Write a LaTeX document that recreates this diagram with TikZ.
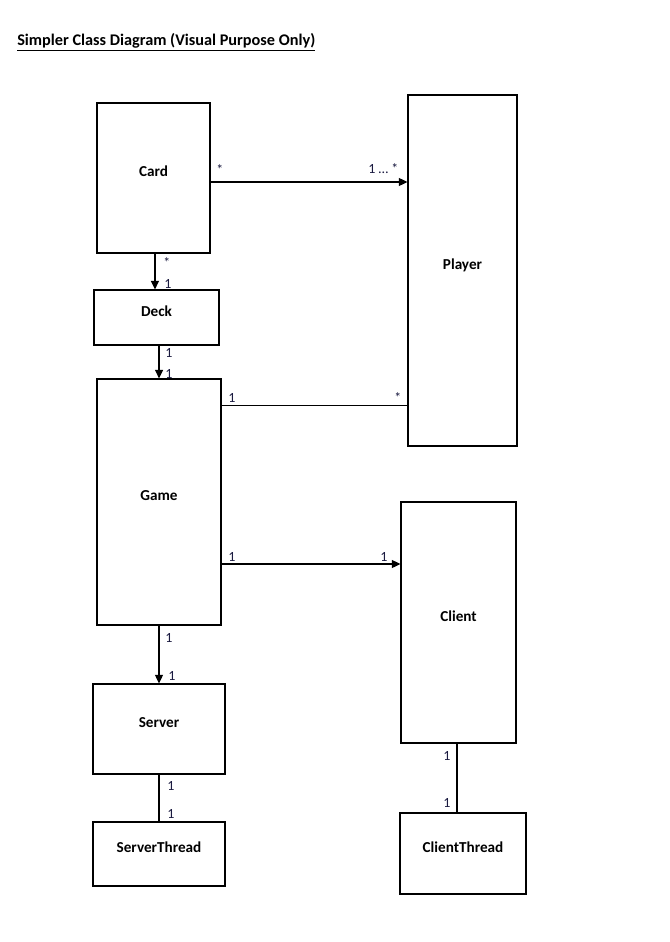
\documentclass[tikz,border=0pt]{standalone}
\usepackage{fontspec}
\setmainfont{Carlito}
\usepackage{xcolor}
\usepackage{tikz}
\usetikzlibrary{arrows.meta,positioning,calc}
\definecolor{Ink}{HTML}{000000}
\definecolor{Mult}{HTML}{1A1A40}

\begin{document}
\begin{tikzpicture}[
    x=0.75pt,y=-0.75pt,
    cls/.style={rectangle,draw=Ink,line width=0.8pt,inner sep=0pt,font=\fontsize{11.4}{13}\selectfont\bfseries,text height=7pt,text depth=9pt},
    link/.style={draw=Ink,line width=1pt},
    assoc/.style={link,-{Triangle[length=6.5pt,width=6pt]}},
    mult/.style={anchor=base west,inner sep=0pt,text=Mult,font=\fontsize{10.5}{12}\selectfont},
]
\useasboundingbox (0,0) rectangle (670,942);
\node[anchor=base west,inner sep=0pt,font=\fontsize{12.2}{14}\selectfont\bfseries] (title) at (17,46) {\underline{Simpler Class Diagram (Visual Purpose Only)}};

% classes
\node[cls,minimum width=84.75pt,minimum height=112.5pt] (card) at (153.5,178) {Card};
\node[cls,minimum width=81.75pt,minimum height=263.25pt] (player) at (462.5,270.5) {Player};
\node[cls,minimum width=93.75pt,minimum height=41.25pt] (deck) at (156.5,317.5) {Deck};
\node[cls,minimum width=93pt,minimum height=184.5pt] (game) at (159,502) {Game};
\node[cls,minimum width=86.25pt,minimum height=180.75pt] (client) at (458.5,622.5) {Client};
\node[cls,minimum width=99pt,minimum height=67.5pt] (server) at (159,729) {Server};
\node[cls,minimum width=99pt,minimum height=48pt] (sthread) at (159,854) {ServerThread};
\node[cls,minimum width=94.5pt,minimum height=60.75pt] (cthread) at (463,853.5) {ClientThread};

% connectors
\draw[assoc] ([yshift=-3pt]card.east) -- ([yshift=-3pt]card.east -| player.west);
\draw[assoc] ([xshift=1.1pt]card.south) -- ([xshift=1.1pt]card.south |- deck.north);
\draw[assoc] ([xshift=1.9pt]deck.south) -- ([xshift=1.9pt]deck.south |- game.north);
\draw[link] ([yshift=-20.25pt]game.north east) -- ([yshift=-20.25pt]game.north east -| player.west);
\draw[assoc] ([yshift=-46.5pt]game.east) -- ([yshift=-46.5pt]game.east -| client.west);
\draw[assoc] (game.south) -- (server.north);
\draw[link] (server.south) -- (sthread.north);
\draw[link] ([xshift=-1.1pt]client.south) -- ([xshift=-1.1pt]client.south |- cthread.north);

% multiplicities
\node[mult] (m1) at (216,174) {*};
\node[mult] (m2) at (368,173) {1 … *};
\node[mult] (m3) at (163,267) {*};
\node[mult] (m4) at (164,288) {1};
\node[mult] (m5) at (165,357) {1};
\node[mult] (m6) at (165,378) {1};
\node[mult] (m7) at (228,402) {1};
\node[mult] (m8) at (394,402) {*};
\node[mult] (m9) at (228,561) {1};
\node[mult] (m10) at (380,561) {1};
\node[mult] (m11) at (165,642) {1};
\node[mult] (m12) at (168,680) {1};
\node[mult] (m13) at (167,790) {1};
\node[mult] (m14) at (167,818) {1};
\node[mult] (m15) at (443,760) {1};
\node[mult] (m16) at (443,807) {1};
\end{tikzpicture}
\end{document}
